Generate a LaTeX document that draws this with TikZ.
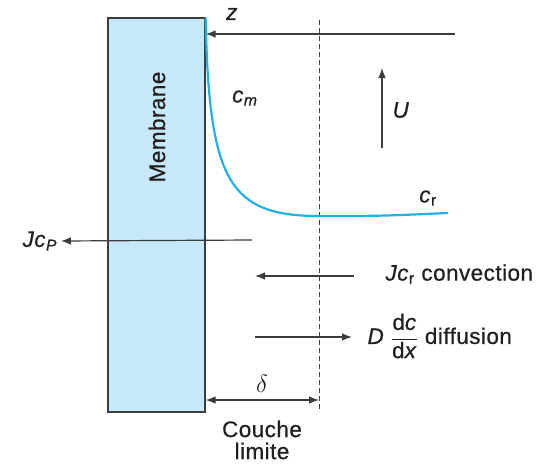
\documentclass[tikz,border=0pt]{standalone}
\usepackage{fontspec}
\setmainfont{Liberation Sans}[LetterSpace=2, FakeBold=0.6]
\usetikzlibrary{positioning,arrows.meta}
\definecolor{membraneblue}{HTML}{C6E8F8}
\definecolor{profileblue}{HTML}{22B0EA}
\definecolor{linegray}{HTML}{3C3C3C}
\definecolor{inkdark}{HTML}{231F20}

\begin{document}
\begin{tikzpicture}[x=1pt, y=-1pt, font=\fontsize{22.5}{25}\selectfont, text=inkdark,
  flux/.style={-{Latex[length=10pt,width=7.5pt]}, line width=1.2pt, color=linegray},
  limitline/.style={line width=1pt, color=linegray, dash pattern=on 5pt off 3pt}]
\useasboundingbox (0,0) rectangle (540,466);
\node[fill=membraneblue, draw=linegray, line width=1.2pt, minimum width=97pt, minimum height=394pt, inner sep=0pt] (mem) at (156.5,215) {};
\node[rotate=90] (memlabel) at (157,127) {Membrane};
\draw[limitline] (319,20) coordinate (dtop) -- (319,412) coordinate (dbot);
% concentration profile
\draw[profileblue, line width=2.2pt] (mem.north east) .. controls (209,180) and (228,216) .. (319,216) coordinate (cbulk) .. controls (380,216) .. (448,213) coordinate (cend);
\coordinate (ztail) at (455,34);
\draw[flux] (ztail) -- (ztail -| mem.east);
\node (zlabel) at (232,14) {\textit{z}};
\node (cmlabel) at (245,98) {\textit{c}\textsubscript{\textit{m}}};
\node (crlabel) at (428,198) {\textit{c}\textsubscript{r}};
\coordinate (ubot) at (382,148);
\draw[flux] (ubot) -- ++(0,-80) coordinate (utop);
\node (ulabel) at (401,110) {\textit{U}};
% fluxes
\coordinate (jptail) at (252,240);
\node (jplabel) at (40,241) {\textit{Jc}\textsubscript{\textit{P}}};
\draw[flux] (jptail) -- (jplabel.east);
\node[anchor=west] (convlabel) at (382,274) {\textit{Jc}\textsubscript{r} convection};
\coordinate (convend) at (255,276);
\draw[flux] (convlabel.west |- convend) ++(-28,0) coordinate (convtail) -- (convend);
\node[anchor=west] (difflabel) at (364,336) {\textit{D} $\displaystyle\frac{\mbox{d\textit{c}}}{\mbox{d\textit{x}}}$ diffusion};
\coordinate (difftail) at (255,337);
\draw[flux] (difftail) -- (352,337) coordinate (diffend);
% boundary layer
\draw[flux, {Latex[length=10pt,width=7.5pt]}-{Latex[length=10pt,width=7.5pt]}] (mem.east |- 0,400) -- (dbot |- 0,400) coordinate (deltaend);
\node[font=\fontsize{25}{28}\selectfont] (deltalabel) at (262,384) {$\delta$};
\node[align=center, font=\fontsize{22.5}{22}\selectfont] (couche) at (262,440) {Couche\\limite};
\end{tikzpicture}
\end{document}
